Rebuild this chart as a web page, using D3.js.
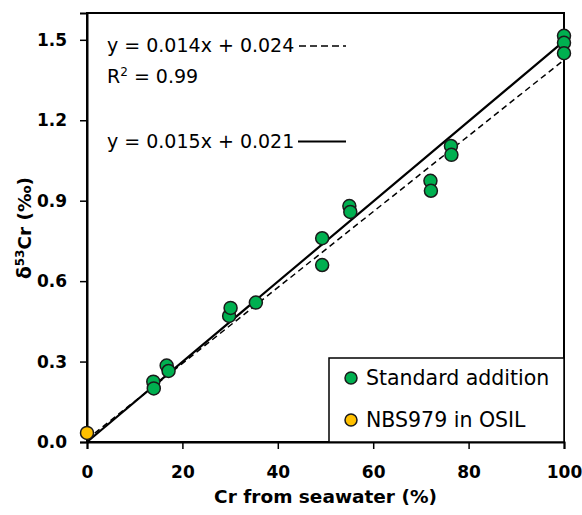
<!DOCTYPE html>
<html>
<head>
<meta charset="utf-8">
<script src="https://cdn.jsdelivr.net/npm/d3@7"></script>
<style>
  body { margin: 0; background: #fff; }
  svg text { font-family: "DejaVu Sans", sans-serif; fill: #000; }
  .tick text { font-family: "DejaVu Sans", sans-serif; font-weight: bold; font-size: 17px; }
</style>
</head>
<body>
<svg id="chart" width="582" height="515"></svg>
<script>
// Standard addition measurements
const stdX = [13.9, 14.0, 16.7, 17.1, 29.8, 30.1, 35.4, 49.3, 49.3, 55.0, 55.2, 72.0, 72.1, 76.3, 76.4, 100, 100, 100];
const stdY = [0.225, 0.20, 0.285, 0.265, 0.47, 0.50, 0.52, 0.76, 0.66, 0.88, 0.858, 0.974, 0.937, 1.104, 1.071, 1.515, 1.489, 1.450];

// NBS979 in OSIL
const nbsX = [0];
const nbsY = [0.034];

// fit lines, endpoints at x = 0 and x = 100
const fitX = [0, 100];
const dashedY = [0.01, 1.425];
const solidY = [0.0, 1.495];

const xTicks = [0, 20, 40, 60, 80, 100];
const yTicks = [0.0, 0.3, 0.6, 0.9, 1.2, 1.5];

const svg = d3.select('#chart');
const margin = { top: 13, right: 18, bottom: 73, left: 87 };
const width = +svg.attr('width') - margin.left - margin.right;
const height = +svg.attr('height') - margin.top - margin.bottom;

const x = d3.scaleLinear().domain([0, 100]).range([0, width]);
const y = d3.scaleLinear().domain([0, 1.6]).range([height, 0]);

const g = svg.append('g').attr('transform', `translate(${margin.left},${margin.top})`);

// plot frame
g.append('rect')
  .attr('width', width).attr('height', height)
  .attr('fill', 'none').attr('stroke', '#000').attr('stroke-width', 2);

const xAxis = g.append('g')
  .attr('transform', `translate(0,${height})`)
  .call(d3.axisBottom(x).tickValues(xTicks).tickSize(7).tickPadding(17).tickFormat(d3.format('d')));
const yAxis = g.append('g')
  .call(d3.axisLeft(y).tickValues(yTicks).tickSize(7).tickPadding(13).tickFormat(d3.format('.1f')));
[xAxis, yAxis].forEach(a => {
  a.select('.domain').attr('stroke-width', 2);
  a.selectAll('.tick line').attr('stroke-width', 1.5);
});

// axis titles
svg.append('text')
  .attr('x', margin.left + width / 2).attr('y', 503)
  .attr('text-anchor', 'middle')
  .style('font-weight', 'bold').style('font-size', '18.5px')
  .text('Cr from seawater (%)');

const yl = svg.append('text')
  .attr('transform', 'translate(31,228) rotate(-90)')
  .attr('text-anchor', 'middle')
  .style('font-weight', 'bold').style('font-size', '18.5px');
yl.append('tspan').text('δ');
yl.append('tspan').attr('dy', -7).style('font-size', '12px').text('53');
yl.append('tspan').attr('dy', 7).text('Cr (‰)');

// fit lines
const line = d3.line().x(d => x(d[0])).y(d => y(d[1]));
g.append('path')
  .datum(d3.zip(fitX, dashedY))
  .attr('d', line).attr('fill', 'none')
  .attr('stroke', '#000').attr('stroke-width', 1.5).attr('stroke-dasharray', '6,4');
g.append('path')
  .datum(d3.zip(fitX, solidY))
  .attr('d', line).attr('fill', 'none')
  .attr('stroke', '#000').attr('stroke-width', 2.2);

// points
g.selectAll('.std').data(d3.zip(stdX, stdY))
  .join('circle')
    .attr('class', 'std')
    .attr('cx', d => x(d[0])).attr('cy', d => y(d[1])).attr('r', 6.5)
    .attr('fill', '#00b050').attr('stroke', '#1a1a1a').attr('stroke-width', 1.5);
g.selectAll('.nbs').data(d3.zip(nbsX, nbsY))
  .join('circle')
    .attr('class', 'nbs')
    .attr('cx', d => x(d[0])).attr('cy', d => y(d[1])).attr('r', 6.5)
    .attr('fill', '#ffc000').attr('stroke', '#1a1a1a').attr('stroke-width', 1.5);

// equations
const eq = svg.append('g').style('font-size', '19px');
eq.append('text').attr('x', 107).attr('y', 52).text('y = 0.014x + 0.024');
eq.append('line').attr('x1', 299).attr('x2', 346).attr('y1', 46).attr('y2', 46)
  .attr('stroke', '#000').attr('stroke-width', 1.5).attr('stroke-dasharray', '7,4');
const r2 = eq.append('text').attr('x', 107).attr('y', 83);
r2.append('tspan').text('R');
r2.append('tspan').attr('dy', -7).style('font-size', '12px').text('2');
r2.append('tspan').attr('dy', 7).text(' = 0.99');
eq.append('text').attr('x', 107).attr('y', 148).text('y = 0.015x + 0.021');
eq.append('line').attr('x1', 298).attr('x2', 346).attr('y1', 141.5).attr('y2', 141.5)
  .attr('stroke', '#000').attr('stroke-width', 2.2);

// legend
const lg = svg.append('g').attr('transform', 'translate(329,358)');
lg.append('rect').attr('width', 235).attr('height', 84)
  .attr('fill', '#fff').attr('stroke', '#000').attr('stroke-width', 1.5);
const legendItems = [['Standard addition', '#00b050'], ['NBS979 in OSIL', '#ffc000']];
legendItems.forEach(([label, colour], i) => {
  lg.append('circle').attr('cx', 22).attr('cy', 20 + i * 42).attr('r', 6)
    .attr('fill', colour).attr('stroke', '#1a1a1a').attr('stroke-width', 1.5);
  lg.append('text').attr('x', 37).attr('y', 27 + i * 42)
    .style('font-size', '20.5px').text(label);
});
</script>
</body>
</html>
